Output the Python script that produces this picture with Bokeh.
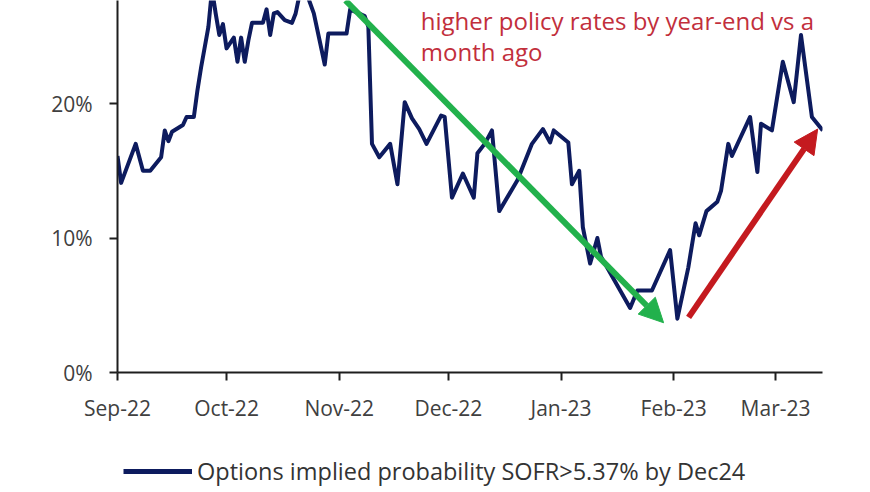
import pandas as pd
from bokeh.plotting import figure
from bokeh.layouts import column
from bokeh.models import (Range1d, FixedTicker, PrintfTickFormatter, Legend, LegendItem,
                          Arrow, NormalHead, ColumnDataSource)
from bokeh.core.properties import value
from bokeh.embed import file_html
from bokeh.resources import INLINE

# ---- data ----
dates = ["2022-09-01", "2022-09-02", "2022-09-06", "2022-09-08", "2022-09-10", "2022-09-13", "2022-09-14",
         "2022-09-15", "2022-09-16", "2022-09-19", "2022-09-20", "2022-09-22", "2022-09-23", "2022-09-24",
         "2022-09-26", "2022-09-27", "2022-09-28", "2022-09-29", "2022-09-30",
         "2022-10-01", "2022-10-03", "2022-10-04", "2022-10-05", "2022-10-06", "2022-10-07", "2022-10-08",
         "2022-10-11", "2022-10-12", "2022-10-13", "2022-10-14", "2022-10-15", "2022-10-17", "2022-10-19",
         "2022-10-20", "2022-10-21", "2022-10-23", "2022-10-25", "2022-10-28", "2022-10-29",
         "2022-11-03", "2022-11-04", "2022-11-08", "2022-11-09", "2022-11-10", "2022-11-12", "2022-11-15",
         "2022-11-17", "2022-11-19", "2022-11-21", "2022-11-23", "2022-11-25", "2022-11-29", "2022-11-30",
         "2022-12-02", "2022-12-05", "2022-12-08", "2022-12-09", "2022-12-11", "2022-12-13", "2022-12-15",
         "2022-12-20", "2022-12-24", "2022-12-27", "2022-12-29", "2022-12-30",
         "2023-01-03", "2023-01-04", "2023-01-06", "2023-01-07", "2023-01-09", "2023-01-11", "2023-01-12",
         "2023-01-20", "2023-01-22", "2023-01-26", "2023-01-31",
         "2023-02-02", "2023-02-05", "2023-02-07", "2023-02-08", "2023-02-10", "2023-02-13", "2023-02-14",
         "2023-02-16", "2023-02-17", "2023-02-22", "2023-02-24", "2023-02-25", "2023-02-28",
         "2023-03-03", "2023-03-06", "2023-03-08", "2023-03-11", "2023-03-14"]

prob_pct = [16.1, 14.1, 17.0, 15.0, 15.0, 16.0, 18.0, 17.2, 17.9, 18.4, 19.0, 19.0, 21.0, 22.7, 25.7, 28.5,
            26.7, 25.1, 25.9,
            24.1, 24.9, 23.1, 24.9, 23.1, 24.7, 26.0, 26.0, 27.0, 25.1, 26.7, 26.8, 26.2, 26.0, 26.7, 28.0,
            28.2, 26.7, 22.9, 25.2,
            25.2, 27.0, 26.5, 25.7, 17.0, 16.0, 17.0, 14.0, 20.1, 18.9, 18.1, 17.0, 19.1, 19.0,
            13.0, 14.8, 13.0, 16.3, 17.0, 18.0, 12.0, 14.3, 17.0, 18.1, 17.1, 18.0,
            17.1, 14.0, 15.0, 10.8, 8.1, 10.0, 8.6, 4.8, 6.1, 6.1, 9.1,
            4.0, 7.8, 11.1, 10.2, 12.0, 12.7, 13.5, 17.0, 16.1, 19.0, 14.9, 18.5, 18.0,
            23.1, 20.1, 25.1, 19.0, 18.0]

month_ticks = ["2022-09-01", "2022-10-01", "2022-11-01", "2022-12-01", "2023-01-01", "2023-02-01", "2023-03-01"]
month_labels = ["Sep-22", "Oct-22", "Nov-22", "Dec-22", "Jan-23", "Feb-23", "Mar-23"]
y_ticks = [0, 10, 20, 30]

series_label = "Options implied probability SOFR>5.37% by Dec24"
note_lines = ["higher policy rates by year-end vs a", "month ago"]

# annotation anchors (data coordinates)
note_x = "2022-11-23 10:00"
note_y = [26.2, 23.85]
green_arrow = (("2022-11-02 17:00", 27.66), ("2023-01-29 05:00", 3.7))
red_arrow = (("2023-02-05 02:00", 4.1), ("2023-03-12 14:00", 18.1))

FONT = "Open Sans"
NAVY = "#0d1b5e"
GREEN = "#22b14c"
RED = "#c41a1f"

def ms(d):
    return pd.Timestamp(d).value // 10**6

p = figure(width=862, height=430, output_backend="svg", toolbar_location=None,
           x_axis_type="datetime",
           x_range=Range1d(ms("2022-09-01"), ms("2023-03-13 22:00")),
           y_range=Range1d(0, 27.66),
           min_border_left=117, min_border_right=40, min_border_top=0, min_border_bottom=58)
p.outline_line_color = None
p.grid.grid_line_color = None
p.background_fill_color = "white"

src = ColumnDataSource(dict(x=pd.to_datetime(dates), y=prob_pct))
p.line("x", "y", source=src, line_color=NAVY, line_width=4, line_join="round")

# axes
for ax in (p.xaxis[0], p.yaxis[0]):
    ax.axis_line_color = "#1e1e1e"
    ax.axis_line_width = 2
    ax.major_tick_line_color = "#1e1e1e"
    ax.major_tick_line_width = 2
    ax.major_tick_out = 8
    ax.major_tick_in = 0
    ax.minor_tick_line_color = None
    ax.major_label_text_font = FONT
    ax.major_label_text_font_size = "21px"
    ax.major_label_text_color = "#404040"

p.xaxis.ticker = FixedTicker(ticks=[ms(d) for d in month_ticks])
p.xaxis.major_label_overrides = {ms(d): lab for d, lab in zip(month_ticks, month_labels)}
p.xaxis.major_label_standoff = 13
p.yaxis.ticker = FixedTicker(ticks=y_ticks)
p.yaxis.formatter = PrintfTickFormatter(format="%d%%")
p.yaxis.major_label_standoff = 17

# annotation text
tsrc = ColumnDataSource(dict(x=[pd.Timestamp(note_x)] * len(note_lines), y=note_y, t=note_lines))
p.text("x", "y", text="t", source=tsrc, text_font=value(FONT), text_font_size="24px",
       text_color="#c22f3c", text_baseline="alphabetic", text_align="left")

# arrows
for (a, b), col in ((green_arrow, GREEN), (red_arrow, RED)):
    p.add_layout(Arrow(x_start=ms(a[0]), y_start=a[1], x_end=ms(b[0]), y_end=b[1],
                       line_color=col, line_width=6,
                       end=NormalHead(size=24, fill_color=col, line_color=col, line_width=1)))

# legend strip (separate small figure below the chart; its frame is aligned with the chart's)
leg = figure(width=862, height=58, output_backend="svg", toolbar_location=None,
             x_range=Range1d(0, 1), y_range=Range1d(0, 1),
             x_axis_location=None, y_axis_location=None,
             min_border_left=117, min_border_right=40, min_border_top=0, min_border_bottom=0)
leg.outline_line_color = None
leg.grid.grid_line_color = None
# same series drawn off-range (invisible) so the legend has a real glyph to show
lr = leg.line("x", "y", source=src, line_color=NAVY, line_width=5)
legend = Legend(items=[LegendItem(label=series_label, renderers=[lr])],
                location=(6, 1), glyph_width=69, glyph_height=20, label_standoff=5,
                label_text_font=FONT, label_text_font_size="23.5px", label_text_color="#333333",
                border_line_color=None, background_fill_alpha=0, padding=0, margin=0)
leg.add_layout(legend, "center")

open("out.html", "w").write(file_html(column(p, leg, spacing=0), INLINE))
